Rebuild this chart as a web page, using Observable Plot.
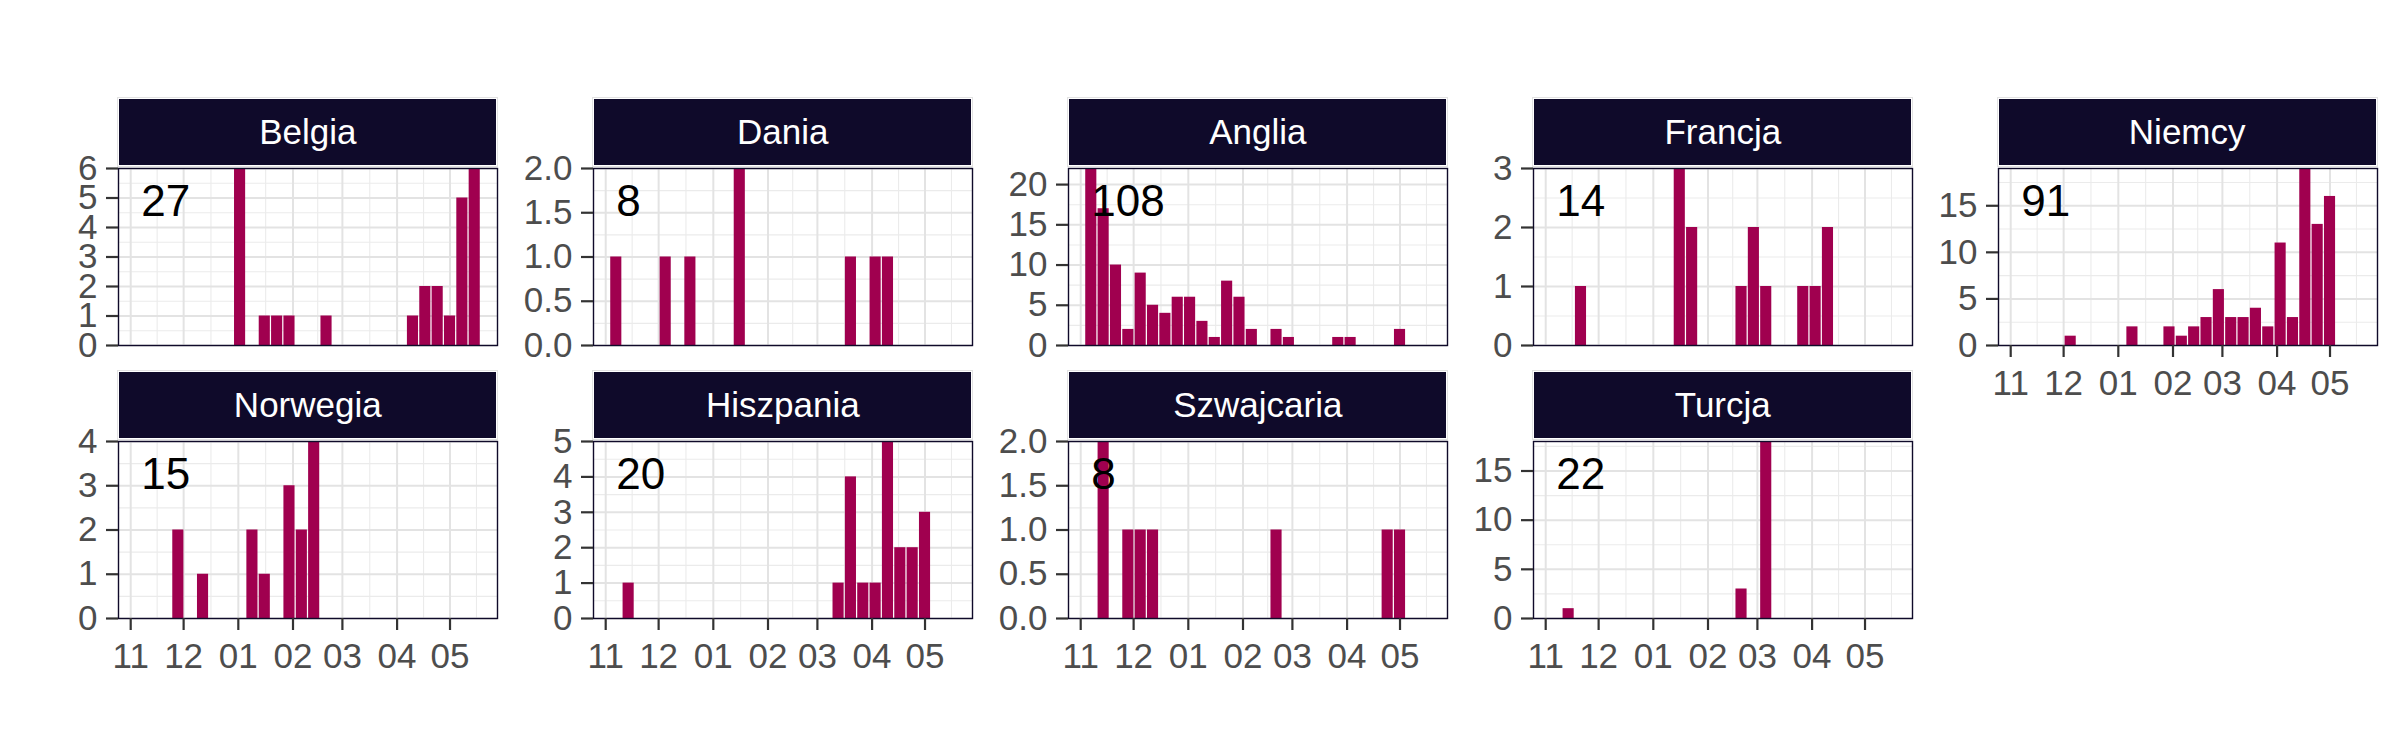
<!DOCTYPE html>
<html>
<head>
<meta charset="utf-8">
<script src="https://cdn.jsdelivr.net/npm/d3@7"></script>
<script src="https://cdn.jsdelivr.net/npm/@observablehq/plot@0.6"></script>
<style>
  body { margin: 0; background: #ffffff; }
  #chart { position: relative; width: 2400px; height: 750px; overflow: hidden; background: #fff;
           font-family: "Liberation Sans", Arial, sans-serif; }
  .panel { position: absolute; z-index: 1; }
  .strip { position: absolute; box-sizing: border-box; background: #0f0a2a; color: #ffffff;
           font-size: 35px; display: flex; align-items: center; justify-content: center;
           outline: 1px solid #e2e2e2; outline-offset: 1.5px; z-index: 2; }
</style>
</head>
<body>
<div id="chart"></div>
<script>
// ---------------- data ----------------
const countries = ["Belgia", "Dania", "Anglia", "Francja", "Niemcy",
                   "Norwegia", "Hiszpania", "Szwajcaria", "Turcja"];

// weekly bins (bar centres)
const weeks = [
  "2020-11-07", "2020-11-14", "2020-11-21", "2020-11-28", "2020-12-05", "2020-12-12", "2020-12-19",
  "2020-12-26", "2021-01-02", "2021-01-09", "2021-01-16", "2021-01-23", "2021-01-30", "2021-02-06",
  "2021-02-13", "2021-02-20", "2021-02-27", "2021-03-06", "2021-03-13", "2021-03-20", "2021-03-27",
  "2021-04-03", "2021-04-10", "2021-04-17", "2021-04-24", "2021-05-01", "2021-05-08", "2021-05-15"
];

const belgia     = [0,0,0,0,0,0,0,0,6,0,1,1,1,0,0,1,0,0,0,0,0,0,1,2,2,1,5,6];
const dania      = [1,0,0,0,1,0,1,0,0,0,2,0,0,0,0,0,0,0,0,1,0,1,1,0,0,0,0,0];
const anglia     = [22,17,10,2,9,5,4,6,6,3,1,8,6,2,0,2,1,0,0,0,1,1,0,0,0,2,0,0];
const francja    = [0,0,1,0,0,0,0,0,0,0,3,2,0,0,0,1,2,1,0,0,1,1,2,0,0,0,0,0];
const niemcy     = [0,0,0,0,1,0,0,0,0,2,0,0,2,1,2,3,6,3,3,4,2,11,3,19,13,16,0,0];
const norwegia   = [0,0,0,2,0,1,0,0,0,2,1,0,3,2,4,0,0,0,0,0,0,0,0,0,0,0,0,0];
const hiszpania  = [0,1,0,0,0,0,0,0,0,0,0,0,0,0,0,0,0,0,1,4,1,1,5,2,2,3,0,0];
const szwajcaria = [0,2,0,1,1,1,0,0,0,0,0,0,0,0,0,1,0,0,0,0,0,0,0,0,1,1,0,0];
const turcja     = [0,1,0,0,0,0,0,0,0,0,0,0,0,0,0,3,0,18,0,0,0,0,0,0,0,0,0,0];

// y tick values per panel
const ticksBelgia     = [0,1,2,3,4,5,6];
const ticksDania      = [0,0.5,1,1.5,2];
const ticksAnglia     = [0,5,10,15,20];
const ticksFrancja    = [0,1,2,3];
const ticksNiemcy     = [0,5,10,15];
const ticksNorwegia   = [0,1,2,3,4];
const ticksHiszpania  = [0,1,2,3,4,5];
const ticksSzwajcaria = [0,0.5,1,1.5,2];
const ticksTurcja     = [0,5,10,15];

// x axis ticks (month starts) and their labels
const monthTicks  = ["2020-11-01","2020-12-01","2021-01-01","2021-02-01","2021-03-01","2021-04-01","2021-05-01"];
const monthLabels = ["11","12","01","02","03","04","05"];

// ---------------- assembly ----------------
const seriesList = [belgia, dania, anglia, francja, niemcy, norwegia, hiszpania, szwajcaria, turcja];
const ticksList  = [ticksBelgia, ticksDania, ticksAnglia, ticksFrancja, ticksNiemcy,
                    ticksNorwegia, ticksHiszpania, ticksSzwajcaria, ticksTurcja];

const DAY = 864e5;
const weekDates = weeks.map(d => new Date(d + "T00:00:00Z"));
const halfBar = 0.45 * 7 * DAY;
const xLo = +d3.min(weekDates) - halfBar, xHi = +d3.max(weekDates) + halfBar;
const xPad = (xHi - xLo) * 0.05;
const xDomain = [new Date(xLo - xPad), new Date(xHi + xPad)];
const monthDates = monthTicks.map(d => new Date(d + "T00:00:00Z"));
const monthMinor = monthDates.map((d, i) => {
  if (i < monthDates.length - 1) return new Date((+d + +monthDates[i + 1]) / 2);
  return new Date(+d + (+d - +monthDates[i - 1]) / 2);
});
const monthLabelOf = new Map(monthDates.map((d, i) => [+d, monthLabels[i]]));

// layout (pixels)
const colLeft = [118.3, 593.3, 1068.3, 1533.3, 1997.7];
const rowTop = [168, 440.7];
const panelW = 379, panelH = 177;
const mL = 90, mR = 8, mT = 4, mB = 60;
const stripH = 66, stripGap = 3;

const NAVY = "#0f0a2a";
const BAR = "#a0004f";
const FONT = "Liberation Sans, Arial, sans-serif";

const chart = document.getElementById("chart");

countries.forEach((name, i) => {
  const row = i < 5 ? 0 : 1;
  const col = i < 5 ? i : i - 5;
  const values = seriesList[i];
  const yTicks = ticksList[i];
  const ymax = d3.max(values);
  const step = yTicks[1] - yTicks[0];
  const yMinor = yTicks.map(t => t + step / 2).filter(t => t <= ymax);
  const decimals = yTicks.some(t => !Number.isInteger(t));
  const yFmt = decimals ? d3.format(".1f") : d3.format("d");
  const data = weeks.map((w, k) => ({date: weekDates[k], value: values[k]})).filter(d => d.value > 0);
  const total = d3.sum(values);
  const showX = row === 1 || col === 4;

  const marks = [
    Plot.gridX(monthMinor, {stroke: "#ebebeb", strokeOpacity: 1, strokeWidth: 1.1}),
    Plot.gridY(yMinor, {stroke: "#ebebeb", strokeOpacity: 1, strokeWidth: 1.1}),
    Plot.gridX(monthDates, {stroke: "#e3e3e3", strokeOpacity: 1, strokeWidth: 2}),
    Plot.gridY(yTicks, {stroke: "#e3e3e3", strokeOpacity: 1, strokeWidth: 2}),
    Plot.rectY(data, {
      x1: d => new Date(+d.date - halfBar),
      x2: d => new Date(+d.date + halfBar),
      y1: 0, y2: "value", fill: BAR
    }),
    Plot.frame({stroke: NAVY, strokeWidth: 1.4}),
    Plot.axisY(yTicks, {tickSize: 12, tickPadding: 0, strokeWidth: 2.2, color: "#333333",
                        tickFormat: () => "", label: null}),
    Plot.axisY(yTicks, {tickSize: 0, tickPadding: 21, color: "#4d4d4d", fontSize: 35,
                        tickFormat: yFmt, label: null}),
    Plot.text([total], {
      x: () => weekDates[0], frameAnchor: "top", dy: 33, text: d => String(d),
      textAnchor: "start", lineAnchor: "middle", fontSize: 44, fill: "#000000"
    })
  ];
  if (showX) {
    marks.push(
      Plot.axisX(monthDates, {tickSize: 12, tickPadding: 0, strokeWidth: 2.2, color: "#333333",
                              tickFormat: () => "", label: null}),
      Plot.axisX(monthDates, {tickSize: 0, tickPadding: 25, color: "#4d4d4d", fontSize: 35,
                              tickFormat: d => monthLabelOf.get(+d), label: null})
    );
  }

  const xScale = {type: "utc", domain: xDomain};
  if (!showX) xScale.axis = null;

  const plot = Plot.plot({
    width: mL + panelW + mR,
    height: mT + panelH + mB,
    marginLeft: mL, marginRight: mR, marginTop: mT, marginBottom: mB,
    style: {background: "transparent", fontFamily: FONT, overflow: "visible"},
    x: xScale,
    y: {domain: [0, ymax]},
    marks
  });

  const wrap = document.createElement("div");
  wrap.className = "panel";
  wrap.style.left = (colLeft[col] - mL) + "px";
  wrap.style.top = (rowTop[row] - mT) + "px";
  wrap.appendChild(plot);
  chart.appendChild(wrap);

  const strip = document.createElement("div");
  strip.className = "strip";
  strip.style.left = (colLeft[col] + 1) + "px";
  strip.style.width = (panelW - 2) + "px";
  strip.style.top = (rowTop[row] - stripGap - stripH) + "px";
  strip.style.height = stripH + "px";
  strip.textContent = name;
  chart.appendChild(strip);
});
</script>
</body>
</html>
